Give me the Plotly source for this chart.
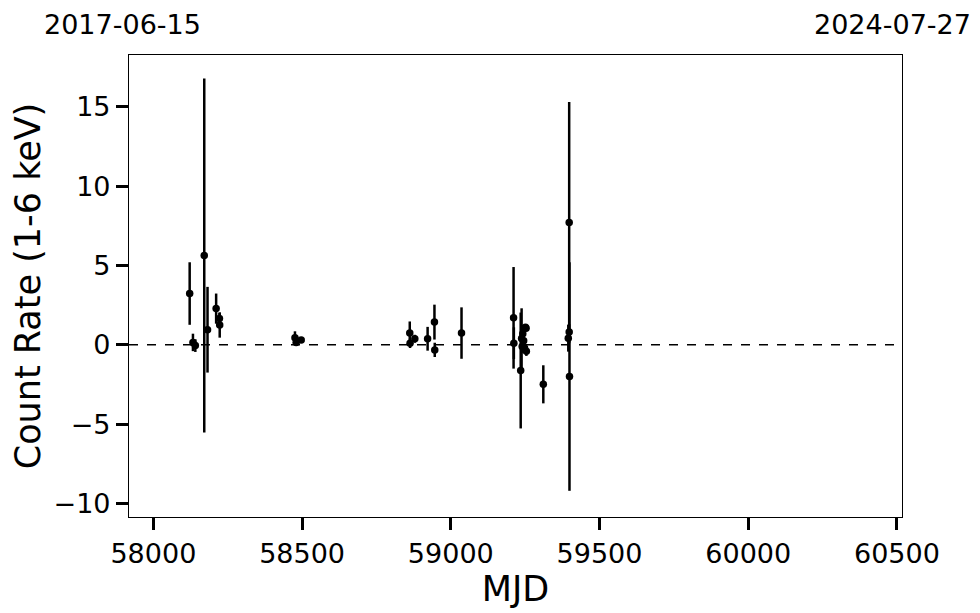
import plotly.graph_objects as go

mjd = [58122, 58133, 58141, 58171, 58182, 58211, 58222, 58223,
       58476, 58480, 58497,
       58862, 58863, 58879, 58922, 58945, 58946, 59036,
       59211, 59212, 59235, 59238, 59240, 59242, 59245, 59248, 59251, 59253, 59254,
       59311, 59395, 59398, 59398, 59399]
rate = [3.23, 0.15, -0.05, 5.63, 0.95, 2.28, 1.65, 1.25,
        0.45, 0.15, 0.3,
        0.74, 0.1, 0.38, 0.38, 1.43, -0.32, 0.74,
        1.7, 0.1, -1.62, 0.4, -0.1, 0.7, 0.25, -0.2, 1.1, 1.05, -0.4,
        -2.49, 0.42, 0.8, 7.7, -2.0]
err = [1.97, 0.55, 0.4, 11.15, 2.7, 0.95, 0.35, 0.8,
       0.4, 0.2, 0.15,
       0.73, 0.3, 0.25, 0.75, 1.1, 0.45, 1.62,
       3.2, 1.0, 3.65, 1.9, 0.4, 0.5, 0.4, 0.3, 0.2, 0.2, 0.3,
       1.2, 0.85, 0.5, 7.6, 7.2]

x_range = [57918, 60517]
y_range = [-10.85, 18.26]
x_ticks = [58000, 58500, 59000, 59500, 60000, 60500]
x_ticktext = ["58000", "58500", "59000", "59500", "60000", "60500"]
y_ticks = [-10, -5, 0, 5, 10, 15]
y_ticktext = ["\u221210", "\u22125", "0", "5", "10", "15"]
top_labels = ["2017-06-15", "2024-07-27"]

FONT = "DejaVu Sans"

fig = go.Figure()
fig.add_trace(go.Scatter(
    x=mjd, y=rate, mode="markers",
    marker=dict(color="black", size=7.5),
    error_y=dict(type="data", array=err, color="black", thickness=2.5, width=0),
    showlegend=False,
))

fig.add_shape(type="line", xref="paper", yref="y", x0=0, x1=1, y0=0, y1=0,
              line=dict(color="black", width=1.5, dash="dash"))

for xp, txt, xs in zip([0, 1], top_labels, [-7, -10]):
    fig.add_annotation(x=xp, y=1, xref="paper", yref="paper", text=txt,
                       showarrow=False, xanchor="center", yanchor="bottom",
                       xshift=xs, yshift=14, borderpad=0,
                       font=dict(family=FONT, size=27, color="black"))

axis_common = dict(
    showline=True, linecolor="black", linewidth=1.2, mirror=True,
    ticks="outside", ticklen=12, tickwidth=2.5, tickcolor="black",
    showgrid=False, zeroline=False,
    tickfont=dict(family=FONT, size=27, color="black"),
)

fig.update_xaxes(range=x_range, tickvals=x_ticks, ticktext=x_ticktext,
                 title=dict(text="MJD", font=dict(family=FONT, size=35, color="black"), standoff=1),
                 **axis_common)
fig.update_yaxes(range=y_range, tickvals=y_ticks, ticktext=y_ticktext,
                 title=dict(text="Count Rate (1-6 keV)", font=dict(family=FONT, size=35, color="black"), standoff=9),
                 **axis_common)

fig.update_layout(
    width=980, height=613,
    margin=dict(l=119, r=86, t=47, b=104),
    plot_bgcolor="white", paper_bgcolor="white",
    font=dict(family=FONT, color="black"),
)

fig.write_html("out.html")
